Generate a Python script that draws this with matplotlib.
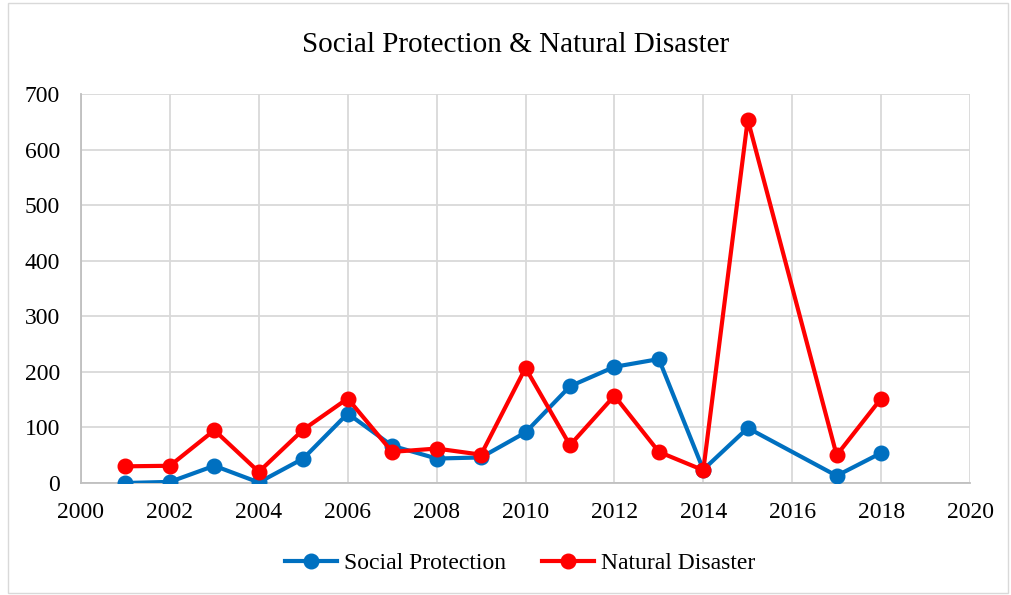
import matplotlib as mpl
import matplotlib.pyplot as plt
from matplotlib.patches import Rectangle

# values (2016 has no point)
years = [2001, 2002, 2003, 2004, 2005, 2006, 2007, 2008, 2009, 2010,
         2011, 2012, 2013, 2014, 2015, 2017, 2018]
social = [0, 2, 31, 1, 44, 125, 67, 44, 46, 91,
          174, 209, 223, 24, 99, 13, 54]
disaster = [30, 31, 95, 20, 96, 152, 56, 62, 51, 207,
            68, 157, 56, 23, 654, 50, 152]
xticks = list(range(2000, 2021, 2))
yticks = list(range(0, 701, 100))

plt.rcParams['font.family'] = ['Liberation Serif', 'DejaVu Serif']

fig = plt.figure(figsize=(10.11, 5.95), dpi=100)
ax = fig.add_axes([81 / 1011, 1 - 483 / 595, (970 - 81) / 1011, (483 - 94) / 595])

ax.plot(years, social, color='#0070c0', lw=3, marker='o', ms=10.5,
        label='Social Protection', zorder=3)
ax.plot(years, disaster, color='#ff0000', lw=3, marker='o', ms=10.5,
        label='Natural Disaster', zorder=4)

ax.set_xlim(2000, 2020)
ax.set_ylim(0, 700)
ax.set_xticks(xticks)
ax.set_yticks(yticks)
ax.tick_params(length=0, labelsize=17)
ax.tick_params(axis='y', pad=15)
ax.tick_params(axis='x', pad=14)
ax.grid(True, color='#d9d9d9', lw=1.3)
ax.set_axisbelow(True)
for side in ['top', 'right']:
    ax.spines[side].set_visible(False)
for side in ['left', 'bottom']:
    ax.spines[side].set_color('#bfbfbf')
    ax.spines[side].set_linewidth(1.3)

fig.text(516 / 1011, 1 - 45 / 595, 'Social Protection & Natural Disaster',
         ha='center', va='center', fontsize=21)
fig.legend(loc='center', bbox_to_anchor=(520 / 1011, 1 - 563 / 595), ncol=2,
           frameon=False, fontsize=17, handlelength=2.2, handletextpad=0.3,
           columnspacing=1.5)

fig.patches.append(Rectangle((8 / 1011, 2 / 595), 1000 / 1011, 590 / 595,
                             transform=fig.transFigure, fill=False,
                             edgecolor='#d9d9d9', lw=1))

plt.savefig('out.png', dpi=100)
